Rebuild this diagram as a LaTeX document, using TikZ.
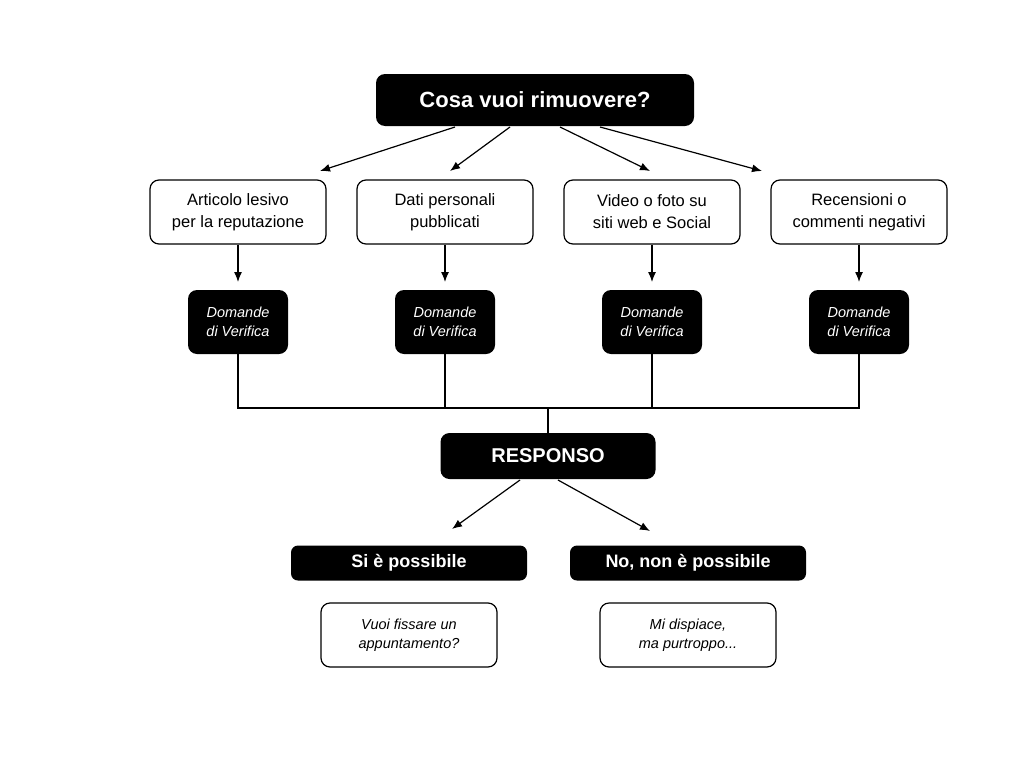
\documentclass[tikz,border=0pt]{standalone}
\usepackage{fontspec}
\setmainfont{Liberation Sans}
\usetikzlibrary{arrows.meta}
\begin{document}
\begin{tikzpicture}[x=1pt,y=-1pt,
 wbox/.style={draw,line width=1.2pt,rounded corners=9pt,fill=white,minimum width=176pt,minimum height=64pt,align=center,font=\fontsize{16.5}{22}\selectfont},
 bbox/.style={fill=black,text=white,rounded corners=9pt,align=center},
 ver/.style={bbox,minimum width=100pt,minimum height=64pt,font=\fontsize{14.5}{19}\selectfont\itshape},
 ibox/.style={wbox,font=\fontsize{14.5}{19}\selectfont\itshape},
 arr/.style={-{Latex[length=10pt,width=8pt]},line width=1.2pt},
 ln/.style={line width=1.2pt}]
\useasboundingbox (0,0) rectangle (1024,768);
\node[bbox,minimum width=318pt,minimum height=52pt,font=\fontsize{22}{26}\selectfont\bfseries] (t) at (535,100) {Cosa vuoi rimuovere?};
\foreach \i/\x/\txt in {1/238/{Articolo lesivo\\per la reputazione},2/445/{Dati personali\\pubblicati},3/652/{Video o foto su\\siti web e Social},4/859/{Recensioni o\\commenti negativi}}{
 \node[wbox] (b\i) at (\x,212) {\txt};
 \node[ver] (v\i) at (\x,322) {Domande\\di Verifica};
 \coordinate (d\i) at (\x,282);
 \draw[arr] (b\i.south) -- (d\i);
}
\coordinate (s1) at (455,127); \coordinate (e1) at (320,171);
\coordinate (s2) at (510,127); \coordinate (e2) at (450,171);
\coordinate (s3) at (560,127); \coordinate (e3) at (650,171);
\coordinate (s4) at (600,127); \coordinate (e4) at (762,171);
\foreach \i in {1,...,4}{\draw[arr] (s\i) -- (e\i);}
\node[bbox,minimum width=215pt,minimum height=46pt,font=\fontsize{20}{24}\selectfont\bfseries] (r) at (548,456) {RESPONSO};
\coordinate (j) at (548,408);
\draw[ln] (v1.south) |- (v4.south |- j) -- (v4.south);
\draw[ln] (v2.south) -- (v2.south |- j);
\draw[ln] (v3.south) -- (v3.south |- j);
\draw[ln] (j) -- (r.north);
\node[bbox,minimum width=236pt,minimum height=35pt,rounded corners=7pt,font=\fontsize{18}{22}\selectfont\bfseries] (si) at (409,563) {Si è possibile};
\node[bbox,minimum width=236pt,minimum height=35pt,rounded corners=7pt,font=\fontsize{18}{22}\selectfont\bfseries] (no) at (688,563) {No, non è possibile};
\coordinate (r1) at (520,480); \coordinate (r2) at (558,480);
\draw[arr] (r1) -- (452,529);
\draw[arr] (r2) -- (650,531);
\node[ibox] (a1) at (409,635) {Vuoi fissare un\\appuntamento?};
\node[ibox] (a2) at (688,635) {Mi dispiace,\\ma purtroppo...};
\end{tikzpicture}
\end{document}
